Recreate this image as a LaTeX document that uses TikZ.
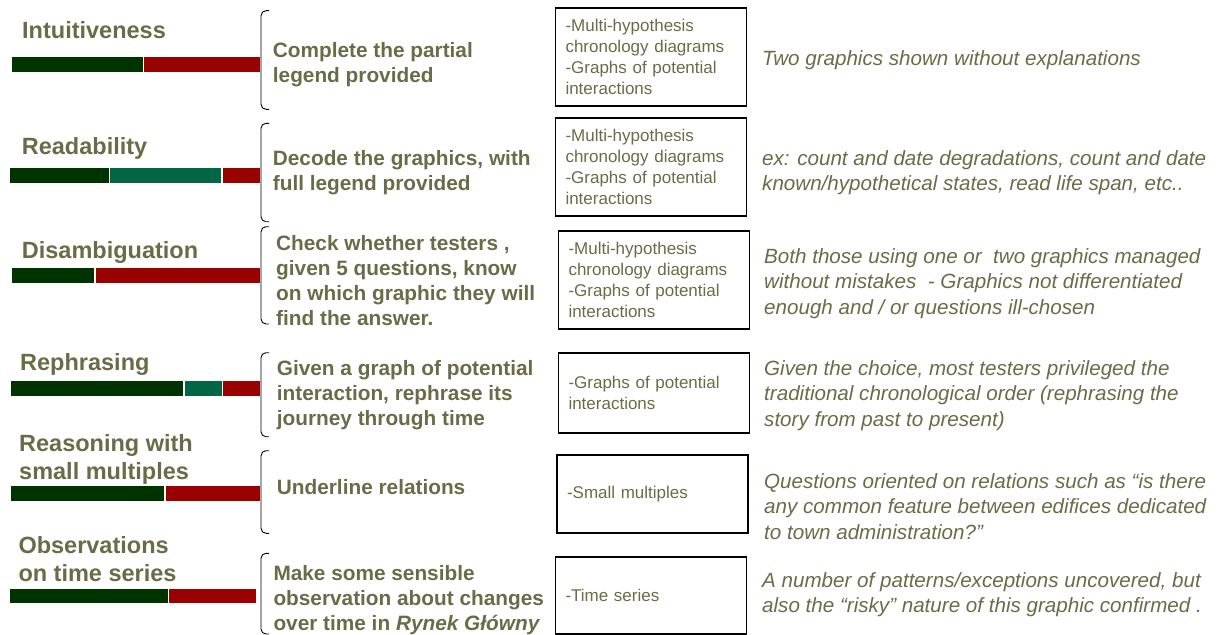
\documentclass[tikz,border=0pt]{standalone}
\usepackage{fontspec}
\setmainfont{Liberation Sans}
\definecolor{txtolive}{RGB}{107,107,71}
\definecolor{bardark}{RGB}{0,51,0}
\definecolor{barteal}{RGB}{0,102,68}
\definecolor{barred}{RGB}{153,0,0}
\tikzset{
	crit/.style={anchor=north west,inner sep=0,align=left,text=txtolive,font=\bfseries\fontsize{23.5}{28}\selectfont},
	taskt/.style={anchor=north west,inner sep=0,align=left,text=txtolive,font=\bfseries\fontsize{20.8}{25}\selectfont},
	graphbox/.style={draw,line width=1.1pt,inner xsep=10pt,inner ysep=0pt,text width=171pt,align=left,text=txtolive,font=\fontsize{17}{21}\selectfont},
	remark/.style={anchor=north west,inner sep=0,align=left,text=txtolive,font=\itshape\fontsize{20.6}{25.5}\selectfont}
}

\begin{document}
\begin{tikzpicture}[x=1pt,y=-1pt]
		\useasboundingbox (0,0) rectangle (1217,634);
		% bars under the criteria
		\foreach \ya/\yb/\xa/\xb/\c in {57.3/71.7/12/142.7/bardark,57.3/71.7/144/260/barred,
			168.3/182.7/10/109/bardark,168.3/182.7/110.3/220.7/barteal,168.3/182.7/223/260/barred,
			268.3/282.7/12/94/bardark,268.3/282.7/96/260/barred,
			381/396/11/183.3/bardark,381/396/185/221.7/barteal,381/396/223/260/barred,
			486/501/11/164/bardark,486/501/166/260/barred,
			588.7/603.3/10/167.7/bardark,588.7/603.3/169.3/256/barred}
			\fill[\c] (\xa,\ya) rectangle (\xb,\yb);
		% brackets
		\foreach \ya/\yb in {10.7/109.3,123.3/221.7,226.7/324,352.7/436.7,450.7/533.3,553.3/634}
			\draw[rounded corners=5pt,line width=0.9pt] (269,\ya) -- (261,\ya) -- (261,\yb) -- (269,\yb);
		\node[crit] (intu) at (22,21.5) {Intuitiveness};
		\node[crit] (read) at (21.7,137.2) {Readability};
		\node[crit] (disa) at (21.7,240.9) {Disambiguation};
		\node[crit] (reph) at (20,353.2) {Rephrasing};
		\node[crit] (reas) at (19,433.9) {Reasoning with\\small multiples};
		\node[crit] (obse) at (18.3,536.5) {Observations\\on time series};
		\node[taskt] (task1) at (272.7,42.3) {Complete the partial\\legend provided};
		\node[taskt] (task2) at (272.7,150) {Decode the graphics, with\\full legend provided};
		\node[taskt] (task3) at (276,235.7) {Check whether testers ,\\given 5 questions, know\\on which graphic they will\\find the answer.};
		\node[taskt] (task4) at (276.7,360) {Given a graph of potential\\interaction, rephrase its\\journey through time};
		\node[taskt] (task5) at (276.7,479) {Underline relations};
		\node[taskt] (task6) at (273.3,565.7) {Make some sensible\\observation about changes\\over time in \textit{Rynek Główny}};
		\node[graphbox,minimum height=98pt] (gr1) at (651,57) {-Multi-hypothesis\\chronology diagrams\\-Graphs of potential\\interactions};
		\node[graphbox,minimum height=98pt] (gr2) at (651,167) {-Multi-hypothesis\\chronology diagrams\\-Graphs of potential\\interactions};
		\node[graphbox,minimum height=98pt] (gr3) at (654,280) {-Multi-hypothesis\\chronology diagrams\\-Graphs of potential\\interactions};
		\node[graphbox,minimum height=80pt] (gr4) at (654,393) {-Graphs of potential\\interactions};
		\node[graphbox,minimum height=78pt] (gr5) at (652.5,494) {-Small multiples};
		\node[graphbox,minimum height=77pt] (gr6) at (651,595.5) {-Time series};
		\node[remark] (rem1) at (762,50) {Two graphics shown without explanations};
		\node[remark] (rem2) at (762,150) {ex: count and date degradations, count and date\\known/hypothetical states, read life span, etc..};
		\node[remark] (rem3) at (764,248) {Both those using one or\ \ two graphics managed\\without mistakes\ \ - Graphics not differentiated\\enough and / or questions ill-chosen};
		\node[remark] (rem4) at (764,360) {Given the choice, most testers privileged the\\traditional chronological order (rephrasing the\\story from past to present)};
		\node[remark] (rem5) at (764,473) {Questions oriented on relations such as “is there\\any common feature between edifices dedicated\\to town administration?”};
		\node[remark] (rem6) at (762,572) {A number of patterns/exceptions uncovered, but\\also the “risky” nature of this graphic confirmed .};
	\end{tikzpicture}
\end{document}
